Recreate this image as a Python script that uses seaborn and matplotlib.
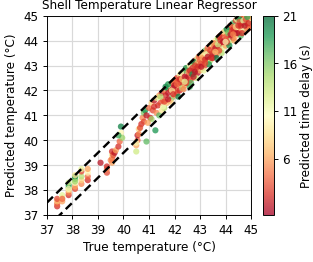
import numpy as np
import pandas as pd
import matplotlib
matplotlib.use('Agg')
import matplotlib.pyplot as plt
import seaborn as sns

# true temperature, predicted temperature, predicted time delay (s)
true_temp = [
    37.4, 37.4, 37.4, 37.4, 37.6, 37.6, 37.6, 37.6,
    37.85, 37.85, 37.85, 37.85, 37.85, 37.85,
    38.1, 38.1, 38.1, 38.1, 38.1, 38.1,
    38.35, 38.35, 38.35, 38.35, 38.35, 38.6, 38.6, 38.6, 38.6,
    39.1, 39.35, 39.35, 39.35, 39.55, 39.55, 39.55, 39.55,
    39.5, 39.6, 39.65, 39.7, 39.8, 39.85, 39.9, 39.9, 39.95,
    40.5, 40.5, 40.55, 40.55, 40.6, 40.5, 40.7, 40.75, 40.8, 40.85, 40.8, 40.9, 40.9,
    41.0, 41.05, 41.1, 41.15, 41.2, 41.25, 41.3, 41.3, 41.35, 41.4, 41.4, 41.45, 41.5, 41.5, 41.55, 41.1, 40.95,
    41.6, 41.6, 41.65, 41.7, 41.7, 41.75, 41.8, 41.8, 41.85, 41.9, 41.9, 41.95, 42.0, 42.0, 42.05, 41.65, 41.75, 41.55, 41.85, 41.95,
    42.1, 42.1, 42.15, 42.2, 42.2, 42.25, 42.3, 42.3, 42.35, 42.4, 42.4, 42.45, 42.5, 42.5, 42.55, 42.15, 42.25, 42.35, 42.45, 42.05, 42.6, 42.2,
    42.6, 42.6, 42.65, 42.7, 42.7, 42.75, 42.8, 42.8, 42.85, 42.9, 42.9, 42.95, 43.0, 43.0, 42.65, 42.75, 42.85, 42.95, 42.7, 42.9,
    43.05, 43.1, 43.1, 43.15, 43.2, 43.2, 43.25, 43.3, 43.3, 43.35, 43.4, 43.4, 43.45, 43.5, 43.5, 43.15, 43.35, 43.45, 43.25, 43.05, 43.4,
    43.55, 43.6, 43.6, 43.65, 43.7, 43.7, 43.75, 43.8, 43.8, 43.85, 43.9, 43.9, 43.95, 44.0, 44.0, 43.65, 43.85, 43.95, 43.75, 43.55,
    44.05, 44.1, 44.1, 44.15, 44.2, 44.2, 44.25, 44.3, 44.3, 44.35, 44.4, 44.4, 44.45, 44.5, 44.5, 44.15, 44.35, 44.45, 44.25, 44.05,
    44.55, 44.6, 44.6, 44.65, 44.7, 44.7, 44.75, 44.8, 44.8, 44.85, 44.9, 44.9, 44.95, 44.95, 44.6, 44.75, 44.85, 44.55, 44.65, 44.95,
    41.2, 41.45, 41.6, 41.75, 41.9, 42.0, 42.1, 42.2, 42.3, 42.4, 42.45, 42.55, 42.6, 42.7, 42.75,
    42.8, 42.9, 43.0, 43.05, 43.1, 43.2, 43.25, 43.3, 43.4, 43.45, 43.55, 43.6, 43.7, 43.75, 43.8,
    43.9, 44.0, 44.05, 44.1, 44.2, 44.25, 44.3, 44.4, 44.45, 44.55, 44.6, 44.7, 44.75, 44.8, 44.9,
    44.95, 44.85, 44.5, 44.3, 44.0, 43.6, 43.2, 42.8, 42.4, 41.95, 40.65, 40.6, 39.8, 38.1, 37.85,
]
pred_temp = [
    37.35, 37.45, 37.55, 37.65, 37.55, 37.7, 37.8, 37.65,
    37.8, 37.9, 38.0, 38.1, 38.2, 38.3,
    38.05, 38.15, 38.3, 38.45, 38.55, 38.6,
    38.25, 38.4, 38.55, 38.75, 38.85, 38.4, 38.55, 38.7, 38.85,
    39.1, 38.7, 38.85, 38.95, 39.1, 39.25, 39.4, 39.55,
    39.2, 39.4, 39.5, 39.6, 39.75, 39.95, 40.55, 40.3, 40.1,
    39.55, 39.8, 40.0, 40.2, 40.45, 39.9, 40.65, 40.9, 41.1, 41.2, 40.75, 39.95, 41.0,
    41.3, 40.9, 41.5, 41.2, 41.6, 40.4, 41.1, 41.7, 41.4, 41.0, 41.8, 41.5, 41.2, 41.9, 41.6, 40.85, 40.7,
    41.3, 42.0, 41.8, 41.5, 42.1, 41.9, 41.6, 42.2, 42.0, 41.7, 42.3, 42.1, 41.8, 42.4, 42.0, 42.15, 42.25, 41.35, 41.55, 42.35,
    41.9, 42.5, 42.2, 42.0, 42.6, 42.3, 42.1, 42.7, 42.4, 42.2, 42.8, 42.5, 42.3, 42.9, 42.6, 41.75, 42.7, 42.05, 42.9, 42.45, 42.15, 42.35,
    42.4, 43.0, 42.7, 42.5, 43.1, 42.8, 42.6, 43.2, 42.9, 42.7, 43.3, 43.0, 42.8, 43.4, 42.3, 43.15, 42.5, 43.35, 42.9, 43.1,
    43.1, 42.9, 43.5, 43.2, 43.0, 43.6, 43.3, 43.1, 43.7, 43.4, 43.2, 43.8, 43.5, 43.3, 43.9, 42.8, 43.05, 43.85, 43.55, 43.45, 43.45,
    43.6, 43.4, 44.0, 43.7, 43.5, 44.1, 43.8, 43.6, 44.2, 43.9, 43.7, 44.3, 44.0, 43.8, 44.4, 43.3, 43.5, 44.35, 44.15, 43.9,
    44.1, 43.9, 44.5, 44.2, 44.0, 44.6, 44.3, 44.1, 44.7, 44.4, 44.2, 44.8, 44.5, 44.3, 44.9, 43.8, 44.0, 44.85, 44.55, 44.45,
    44.6, 44.4, 44.95, 44.7, 44.5, 44.95, 44.8, 44.6, 44.95, 44.7, 44.5, 44.85, 44.6, 44.9, 44.2, 44.35, 44.45, 44.85, 44.3, 44.75,
    41.35, 41.75, 41.55, 41.65, 42.0, 42.2, 42.25, 42.45, 42.45, 42.55, 42.3, 42.75, 42.8, 42.65, 42.55,
    43.0, 42.95, 43.2, 42.95, 43.3, 43.25, 43.45, 43.35, 43.6, 43.3, 43.75, 43.7, 43.85, 43.6, 44.0,
    43.95, 44.15, 43.95, 44.3, 44.25, 44.4, 44.45, 44.55, 44.3, 44.75, 44.6, 44.8, 44.6, 44.85, 44.7,
    44.95, 44.95, 44.6, 44.25, 43.95, 43.55, 43.1, 42.75, 42.35, 41.85, 40.5, 40.25, 40.2, 38.35, 38.05,
]
time_delay = [
    2, 4, 7, 3, 6, 9, 12, 4,
    2, 5, 8, 16, 19, 13,
    3, 6, 11, 17, 20, 9,
    5, 8, 14, 3, 12, 2, 4, 10, 6,
    1, 3, 5, 2, 6, 4, 9, 2,
    5, 3, 1, 6, 2, 4, 20, 10, 15,
    13, 6, 4, 1, 8, 11, 2, 5, 16, 19, 3, 17, 1,
    4, 2, 8, 3, 1, 19, 5, 12, 2, 17, 6, 3, 9, 1, 4, 15, 6,
    14, 5, 2, 7, 18, 1, 3, 10, 2, 16, 4, 1, 6, 2, 3, 20, 19, 11, 8, 5,
    3, 1, 5, 2, 9, 1, 14, 4, 2, 6, 17, 1, 3, 7, 2, 20, 11, 5, 19, 4, 18, 3,
    2, 10, 1, 4, 15, 3, 8, 2, 5, 1, 12, 3, 6, 1, 17, 20, 13, 4, 2, 7,
    2, 5, 11, 1, 3, 16, 2, 7, 4, 1, 14, 3, 6, 2, 18, 12, 19, 9, 5, 8, 1,
    3, 1, 10, 2, 5, 15, 1, 8, 3, 2, 12, 4, 1, 6, 17, 20, 14, 9, 2, 5,
    2, 4, 11, 1, 13, 3, 5, 2, 18, 1, 7, 3, 10, 1, 15, 19, 6, 12, 4, 20,
    2, 5, 9, 1, 11, 3, 2, 14, 6, 1, 3, 16, 4, 8, 17, 12, 5, 20, 2, 10,
    2, 14, 3, 1, 9, 1, 4, 2, 7, 1, 3, 5, 2, 19, 1,
    3, 2, 4, 1, 6, 2, 11, 1, 3, 2, 5, 1, 13, 3, 2,
    1, 4, 2, 16, 1, 3, 2, 8, 1, 4, 2, 12, 1, 3, 2,
    6, 18, 2, 5, 10, 7, 3, 1, 12, 2, 3, 5, 18, 15, 10,
]

temp_ticks = [37, 38, 39, 40, 41, 42, 43, 44, 45]
delay_ticks = [6, 11, 16, 21]
band = 0.5

df = pd.DataFrame({'true': true_temp, 'pred': pred_temp, 'delay': time_delay})

fig = plt.figure(figsize=(3.64, 3.05), dpi=86)
ax = fig.add_axes([0.150, 0.179, 0.652, 0.760])
cax = fig.add_axes([0.840, 0.179, 0.035, 0.760])

norm = plt.Normalize(0.1, 21)
sns.scatterplot(data=df, x='true', y='pred', hue='delay', palette='RdYlGn',
                hue_norm=norm, s=27, alpha=0.75, linewidth=0, legend=False,
                ax=ax, zorder=3)

# +/- band around the ideal line
lim = np.array([temp_ticks[0], temp_ticks[-1]])
ax.plot(lim, lim + band, 'k--', lw=2, dashes=(3.5, 2), zorder=4)
ax.plot(lim, lim - band, 'k--', lw=2, dashes=(3.5, 2), zorder=4)

ax.set_xlim(lim)
ax.set_ylim(lim)
ax.set_xticks(temp_ticks)
ax.set_yticks(temp_ticks)
ax.grid(True, color='#d9d9d9', lw=1, zorder=0)
ax.set_axisbelow(True)
ax.set_title('Shell Temperature Linear Regressor', fontsize=10)
ax.set_xlabel('True temperature (°C)', fontsize=10)
ax.set_ylabel('Predicted temperature (°C)', fontsize=10)

sm = plt.cm.ScalarMappable(norm=norm, cmap='RdYlGn')
cbar = fig.colorbar(sm, cax=cax, alpha=0.75)
cbar.set_ticks(delay_ticks)
cbar.set_label('Predicted time delay (s)', fontsize=10, labelpad=2)

fig.savefig('out.png', dpi=86)
